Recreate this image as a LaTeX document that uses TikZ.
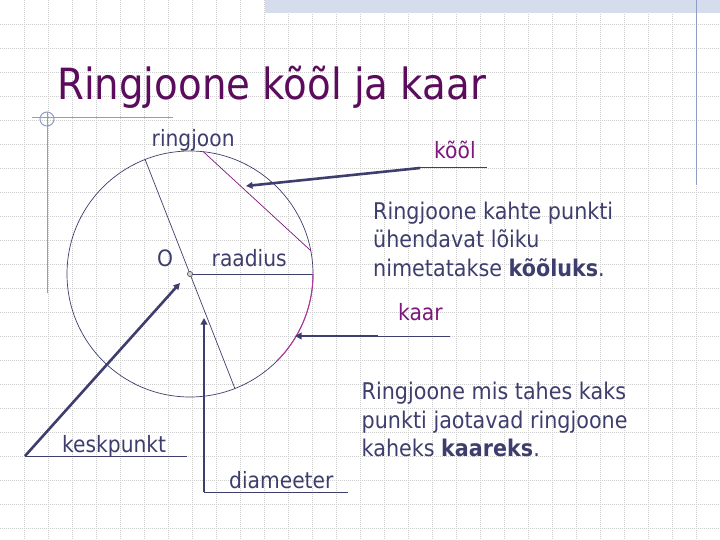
\documentclass[tikz,border=0pt]{standalone}
\usepackage{fontspec}
\setmainfont{DejaVu Sans}[FakeStretch=0.9]
\usetikzlibrary{arrows.meta}
\definecolor{ink}{HTML}{3E3E6E}
\definecolor{titlecol}{HTML}{5C0C5C}
\definecolor{purp}{HTML}{7E167E}
\definecolor{arccol}{HTML}{B8309A}
\definecolor{deco}{HTML}{8E9DC4}
\definecolor{band}{HTML}{D5DDEC}
\definecolor{gridc}{HTML}{CDCDCD}
\tikzset{
  gridline/.style={gridc, line width=0.6pt, dash pattern=on 1pt off 1pt},
  decoline/.style={deco, line width=1pt},
  thinline/.style={ink, line width=0.7pt},
  pointer/.style={ink, line width=2.6pt, -{Triangle[length=6.5pt,width=6.5pt]}},
  underline/.style={ink, line width=1pt},
  lbl/.style={anchor=base west, inner sep=0, text=ink, font=\fontsize{22.5}{27}\selectfont},
  plbl/.style={lbl, text=purp},
  body/.style={lbl, font=\fontsize{23}{28}\selectfont},
}
\begin{document}
\begin{tikzpicture}[x=1pt,y=-1pt]
\useasboundingbox (0,0) rectangle (720,540);
\fill[white] (0,0) rectangle (720,540);
% background grid
\foreach \i in {1,...,29} \draw[gridline] (24*\i,0) -- (24*\i,540);
\foreach \j in {1,...,22} \draw[gridline] (0,24*\j) -- (720,24*\j);
% decoration
\fill[band] (265,0) rectangle (720,13);
\draw[decoline] (696,0) -- (696,185);
\draw[decoline] (32,118) -- (173,118);
\draw[decoline] (47,112) -- (47,293);
\draw[decoline] (47,119) circle[radius=7];
% title
\node[anchor=base west, inner sep=0, text=titlecol, font=\fontsize{43}{50}\selectfont] (title) at (57,100) {Ringjoone kõõl ja kaar};
% circle geometry
\coordinate (O) at (190,274);
\draw[thinline] (O) circle[radius=123];
\coordinate (d1) at (145.1,159.5);
\coordinate (d2) at (234.9,388.5);
\draw[thinline] (d1) -- (d2);
\coordinate (r1) at (313,274);
\draw[thinline] (O) -- (r1);
\coordinate (c1) at (203.3,151.7);
\coordinate (c2) at (310.8,250.7);
\draw[purp, line width=0.7pt] (c1) -- (c2);
\draw[arccol, line width=1pt] (r1) arc[start angle=0, end angle=45, radius=123];
\draw[gray!60!black, fill=gray!35, line width=0.6pt] (O) circle[radius=2.6];
% labels
\node[lbl] (ringjoon) at (151.5,146.5) {ringjoon};
\node[lbl] (Olbl) at (157,266.5) {O};
\node[lbl] (raadius) at (211.5,266.5) {raadius};
\node[plbl] (kool) at (434,158.5) {kõõl};
\node[plbl] (kaar) at (398,320.5) {kaar};
\node[lbl] (keskpunkt) at (62,452.5) {keskpunkt};
\node[lbl] (diameeter) at (229,488.5) {diameeter};
% explanations
\node[body] (t1) at (373,219) {Ringjoone kahte punkti};
\node[body] (t2) at (373,247.5) {ühendavat lõiku};
\node[body] (t3) at (373,276.5) {nimetatakse \textbf{kõõluks}.};
\node[body] (u1) at (361.5,399) {Ringjoone mis tahes kaks};
\node[body] (u2) at (361.5,428) {punkti jaotavad ringjoone};
\node[body] (u3) at (361.5,456.5) {kaheks \textbf{kaareks}.};
% pointers
\coordinate (koolA) at (420,168);
\coordinate (koolB) at (487,168);
\coordinate (chordpt) at (246,186);
\draw[underline] (koolA) -- (koolB);
\draw[pointer] (koolA) -- (chordpt);
\coordinate (kaarA) at (378,336);
\coordinate (kaarB) at (450,336);
\coordinate (arcpt) at (295,336);
\draw[underline] (kaarA) -- (kaarB);
\draw[pointer] (kaarA) -- (arcpt);
\coordinate (keskA) at (25,456);
\coordinate (keskB) at (187,456);
\coordinate (centpt) at (180,283);
\draw[underline] (keskA) -- (keskB);
\draw[pointer] (keskA) -- (centpt);
\coordinate (diamA) at (204,492);
\coordinate (diamB) at (348,492);
\coordinate (diampt) at (204,318);
\draw[underline] (diamA) -- (diamB);
\draw[pointer] (diamA) -- (diampt);
\end{tikzpicture}
\end{document}
